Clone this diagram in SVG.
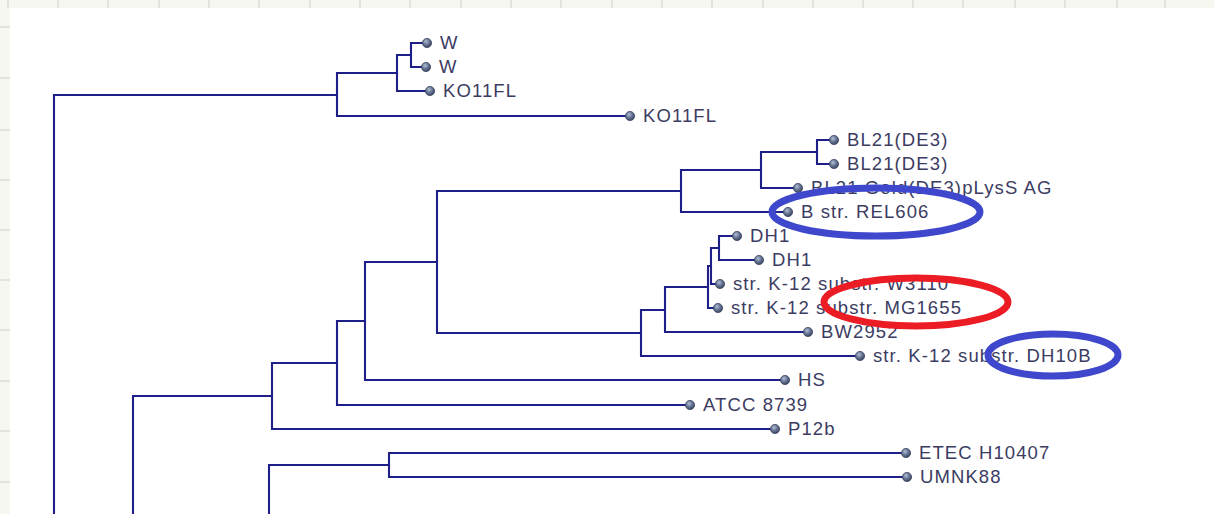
<svg xmlns="http://www.w3.org/2000/svg" width="1214" height="514" viewBox="0 0 1214 514">
<style>
.bg{fill:#f7f7f2}
.grid{stroke:#e4e4dc;stroke-width:2}
.tree{fill:none;stroke:#1f1f8a;stroke-width:2.1;stroke-linejoin:miter;stroke-linecap:square}
.lbl{font-family:"Liberation Sans",Arial,sans-serif;font-size:18.5px;letter-spacing:1.1px;fill:#3c3c62}
.dot{fill:url(#ball);stroke:#3a4563;stroke-width:0.8}
.ring{fill:none;stroke-width:7}
.blue{stroke:#3f48cc}
.red{stroke:#ec1c24}
</style>
<defs>
<radialGradient id="ball" cx="0.4" cy="0.35" r="0.65">
<stop offset="0" stop-color="#b4c0d6"/>
<stop offset="0.5" stop-color="#6a7896"/>
<stop offset="1" stop-color="#3a4563"/>
</radialGradient>
</defs>
<rect class="bg" x="0" y="0" width="1214" height="514"/>
<g id="grid">
<path class="grid" d="M8 0V8M58 0V8M108 0V8M159 0V8M209 0V8M259 0V8M310 0V8M360 0V8M410 0V8M461 0V8M511 0V8M561 0V8M612 0V8M662 0V8M712 0V8M763 0V8M813 0V8M863 0V8M913 0V8M963 0V8M1015 0V8M1065 0V8M1117 0V8M1165 0V8M0 27H10M0 78H10M0 130H10M0 180H10M0 230H10M0 280H10M0 330H10M0 381H10M0 431H10M0 482H10"/>
</g>
<rect x="10" y="8" width="1204" height="506" fill="#ffffff"/>
<g id="connectors">
<path class="tree" d="M427 43H411V67H426"/>
<path class="tree" d="M411 55H397V91H430"/>
<path class="tree" d="M397 73H337V116H630"/>
<path class="tree" d="M337 95H54V514"/>
<path class="tree" d="M834 140H817V164H834"/>
<path class="tree" d="M817 152H761V188H798"/>
<path class="tree" d="M761 170H681V212H788"/>
<path class="tree" d="M737 236H719V260H759"/>
<path class="tree" d="M719 248H711V284H720"/>
<path class="tree" d="M711 266H708V308H718"/>
<path class="tree" d="M708 287H665V332H808"/>
<path class="tree" d="M665 310H641V356H860"/>
<path class="tree" d="M681 191H437V333H641"/>
<path class="tree" d="M437 262H365V380H785"/>
<path class="tree" d="M365 321H337V405H690"/>
<path class="tree" d="M337 363H272V429H775"/>
<path class="tree" d="M906 453H389V477H907"/>
<path class="tree" d="M389 465H269V514"/>
<path class="tree" d="M272 396H133V514"/>
</g>
<g id="leaf-w1"><circle class="dot" cx="427" cy="43" r="4.6"/><text class="lbl" x="440" y="49">W</text></g>
<g id="leaf-w2"><circle class="dot" cx="426" cy="67" r="4.6"/><text class="lbl" x="439" y="73">W</text></g>
<g id="leaf-ko11fl1"><circle class="dot" cx="430" cy="91" r="4.6"/><text class="lbl" x="443" y="97">KO11FL</text></g>
<g id="leaf-ko11fl2"><circle class="dot" cx="630" cy="116" r="4.6"/><text class="lbl" x="643" y="122">KO11FL</text></g>
<g id="leaf-bl21a"><circle class="dot" cx="834" cy="140" r="4.6"/><text class="lbl" x="847" y="146">BL21(DE3)</text></g>
<g id="leaf-bl21b"><circle class="dot" cx="834" cy="164" r="4.6"/><text class="lbl" x="847" y="170">BL21(DE3)</text></g>
<g id="leaf-bl21gold"><circle class="dot" cx="798" cy="188" r="4.6"/><text class="lbl" x="811" y="194">BL21 Gold(DE3)pLysS AG</text></g>
<g id="leaf-rel606"><circle class="dot" cx="788" cy="212" r="4.6"/><text class="lbl" x="801" y="218">B str. REL606</text></g>
<g id="leaf-dh1a"><circle class="dot" cx="737" cy="236" r="4.6"/><text class="lbl" x="750" y="242">DH1</text></g>
<g id="leaf-dh1b"><circle class="dot" cx="759" cy="260" r="4.6"/><text class="lbl" x="772" y="266">DH1</text></g>
<g id="leaf-w3110"><circle class="dot" cx="720" cy="284" r="4.6"/><text class="lbl" x="733" y="290">str. K-12 substr. W3110</text></g>
<g id="leaf-mg1655"><circle class="dot" cx="718" cy="308" r="4.6"/><text class="lbl" x="731" y="314">str. K-12 substr. MG1655</text></g>
<g id="leaf-bw2952"><circle class="dot" cx="808" cy="332" r="4.6"/><text class="lbl" x="821" y="338">BW2952</text></g>
<g id="leaf-dh10b"><circle class="dot" cx="860" cy="356" r="4.6"/><text class="lbl" x="873" y="362">str. K-12 substr. DH10B</text></g>
<g id="leaf-hs"><circle class="dot" cx="785" cy="380" r="4.6"/><text class="lbl" x="798" y="386">HS</text></g>
<g id="leaf-atcc"><circle class="dot" cx="690" cy="405" r="4.6"/><text class="lbl" x="703" y="411">ATCC 8739</text></g>
<g id="leaf-p12b"><circle class="dot" cx="775" cy="429" r="4.6"/><text class="lbl" x="788" y="435">P12b</text></g>
<g id="leaf-etec"><circle class="dot" cx="906" cy="453" r="4.6"/><text class="lbl" x="919" y="459">ETEC H10407</text></g>
<g id="leaf-umnk88"><circle class="dot" cx="907" cy="477" r="4.6"/><text class="lbl" x="920" y="483">UMNK88</text></g>
<g id="highlights">
<ellipse class="ring blue" cx="876" cy="212" rx="104" ry="24"/>
<ellipse class="ring red" cx="916" cy="302" rx="92" ry="24"/>
<ellipse class="ring blue" cx="1053" cy="355" rx="65" ry="21"/>
</g>
</svg>
